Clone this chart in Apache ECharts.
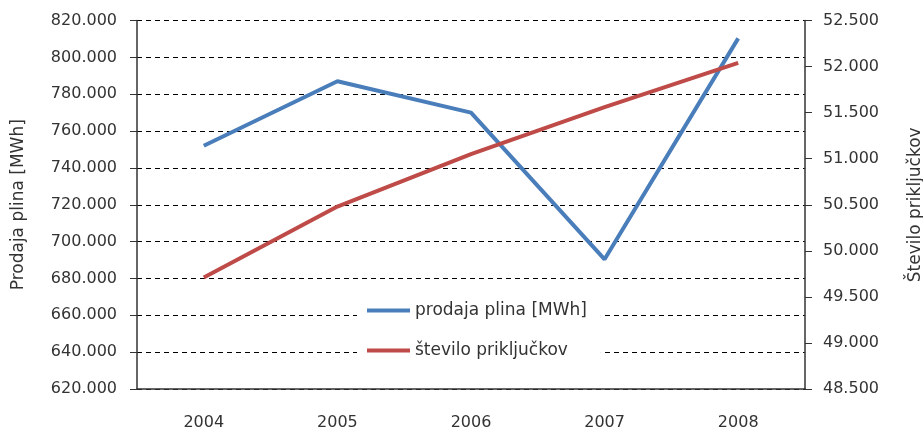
<!DOCTYPE html>
<html>
<head>
<meta charset="utf-8">
<script src="https://cdn.jsdelivr.net/npm/echarts@6/dist/echarts.min.js"></script>
<style>html,body{margin:0;padding:0;background:#fff}#c{width:923px;height:432px}</style>
</head>
<body>
<div id="c"></div>
<script>
var years = ['2004', '2005', '2006', '2007', '2008'];
var prodajaPlina = [752000, 787000, 770000, 690400, 810300];
var steviloPrikljuckov = [49710, 50480, 51050, 51560, 52040];
var seriesNames = ['prodaja plina [MWh]', 'število priključkov'];
var axisNames = ['Prodaja plina [MWh]', 'Število priključkov'];

function fmt(v) {
  return String(Math.round(v)).replace(/\B(?=(\d{3})+(?!\d))/g, '.');
}

var FONT = 'DejaVu Sans';
var chart = echarts.init(document.getElementById('c'));
chart.setOption({
  animation: false,
  backgroundColor: '#fff',
  grid: { left: 137, right: 118, top: 20.5, bottom: 43, containLabel: false, outerBoundsMode: 'none' },
  legend: {
    orient: 'vertical',
    left: 357,
    top: 296,
    padding: [6, 14, 6, 10],
    itemGap: 23,
    itemWidth: 43,
    itemHeight: 4,
    backgroundColor: '#fff',
    textStyle: { fontFamily: FONT, fontSize: 17, color: '#333' },
    data: [
      { name: seriesNames[0], icon: 'rect' },
      { name: seriesNames[1], icon: 'rect' }
    ]
  },
  xAxis: {
    type: 'category',
    data: years,
    boundaryGap: true,
    axisLine: { lineStyle: { color: '#333', width: 1.5 } },
    axisTick: { inside: true, length: 6, lineStyle: { color: '#333' } },
    axisLabel: { margin: 26, fontFamily: FONT, fontSize: 16, color: '#333' }
  },
  yAxis: [
    {
      type: 'value',
      min: 620000, max: 820000, interval: 20000,
      name: axisNames[0],
      nameLocation: 'middle',
      nameRotate: 90,
      nameGap: 110,
      nameTextStyle: { fontFamily: FONT, fontSize: 17, color: '#333' },
      axisLine: { show: true, lineStyle: { color: '#333', width: 1.5 } },
      axisTick: { show: true, length: 7, lineStyle: { color: '#333' } },
      axisLabel: { margin: 20, fontFamily: FONT, fontSize: 16, color: '#333', formatter: fmt },
      splitLine: { show: true, lineStyle: { color: '#000', type: [5, 4], width: 1 } }
    },
    {
      type: 'value',
      min: 48500, max: 52500, interval: 500,
      name: axisNames[1],
      nameLocation: 'middle',
      nameRotate: 90,
      nameGap: 102,
      nameTextStyle: { fontFamily: FONT, fontSize: 17, color: '#333' },
      position: 'right',
      axisLine: { show: true, lineStyle: { color: '#333', width: 1.5 } },
      axisTick: { show: true, length: 7, lineStyle: { color: '#333' } },
      axisLabel: { margin: 18, fontFamily: FONT, fontSize: 16, color: '#333', formatter: fmt },
      splitLine: { show: false }
    }
  ],
  series: [
    {
      name: seriesNames[0],
      type: 'line',
      yAxisIndex: 0,
      data: prodajaPlina,
      symbol: 'none',
      color: '#4a7ebb',
      lineStyle: { width: 4, color: '#4a7ebb' }
    },
    {
      name: seriesNames[1],
      type: 'line',
      yAxisIndex: 1,
      data: steviloPrikljuckov,
      symbol: 'none',
      color: '#be4b48',
      lineStyle: { width: 4, color: '#be4b48' }
    }
  ]
});
</script>
</body>
</html>
